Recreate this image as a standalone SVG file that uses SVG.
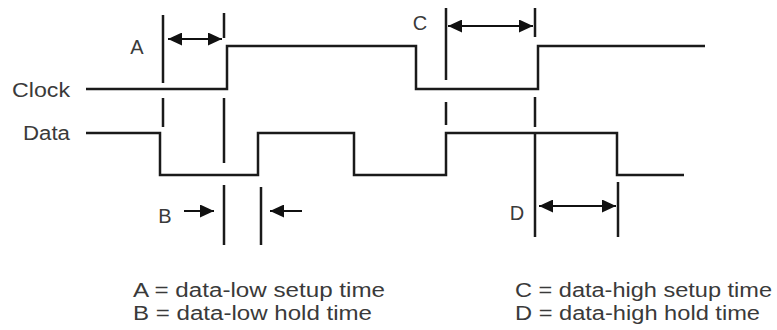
<svg xmlns="http://www.w3.org/2000/svg" width="777" height="330" viewBox="0 0 777 330">
<style>
.sig{fill:none;stroke:#1a1a1a;stroke-width:2.5;stroke-linejoin:miter}
.mk{stroke:#1a1a1a;stroke-width:2.5;fill:none}
.arr{stroke:#111;stroke-width:2;fill:none}
.lbl{font-family:"Liberation Sans",Arial,sans-serif;font-size:20px;fill:#3a3a3a}
.leg{font-family:"Liberation Sans",Arial,sans-serif;font-size:19.5px;fill:#3a3a3a}
</style>
<defs>
<marker id="ah" viewBox="0 0 14 13" refX="14" refY="6.5" markerWidth="14" markerHeight="13" markerUnits="userSpaceOnUse" orient="auto-start-reverse">
<path d="M0,0 L14,6.5 L0,13 Z" fill="#111"/>
</marker>
</defs>
<rect width="777" height="330" fill="#fff"/>
<g id="clock">
<text class="lbl" x="12" y="97" textLength="58" lengthAdjust="spacingAndGlyphs">Clock</text>
<path class="sig" d="M86,89 H227 V46 H416 V89 H538 V46 H705"/>
</g>
<g id="data">
<text class="lbl" x="23" y="140" textLength="47" lengthAdjust="spacingAndGlyphs">Data</text>
<path class="sig" d="M86,133 H160 V175 H258 V133 H354 V175 H446 V133 H617 V175 H684"/>
</g>
<g id="markers">
<path class="mk" d="M163,15 V83 M163,98 V127"/>
<path class="mk" d="M224,13 V38 M224,98 V163 M224,185 V245"/>
<path class="mk" d="M261,187 V245"/>
<path class="mk" d="M446,8 V80 M446,102 V125"/>
<path class="mk" d="M535,8 V37 M535,97 V127 M535,133 V237"/>
<path class="mk" d="M618,182 V237"/>
</g>
<g id="connectors">
<line class="arr" x1="168" y1="39" x2="222" y2="39" marker-start="url(#ah)" marker-end="url(#ah)"/>
<line class="arr" x1="184" y1="211" x2="214" y2="211" marker-end="url(#ah)"/>
<line class="arr" x1="302" y1="211" x2="270" y2="211" marker-end="url(#ah)"/>
<line class="arr" x1="448" y1="26" x2="533" y2="26" marker-start="url(#ah)" marker-end="url(#ah)"/>
<line class="arr" x1="539" y1="206" x2="616" y2="206" marker-start="url(#ah)" marker-end="url(#ah)"/>
</g>
<g id="labels">
<text class="lbl" x="137" y="54" text-anchor="middle">A</text>
<text class="lbl" x="165" y="223" text-anchor="middle">B</text>
<text class="lbl" x="420" y="30" text-anchor="middle">C</text>
<text class="lbl" x="517" y="220" text-anchor="middle">D</text>
</g>
<g id="legend">
<text class="leg" x="133" y="297" textLength="252" lengthAdjust="spacingAndGlyphs">A = data-low setup time</text>
<text class="leg" x="133" y="320" textLength="239" lengthAdjust="spacingAndGlyphs">B = data-low hold time</text>
<text class="leg" x="515" y="297" textLength="257" lengthAdjust="spacingAndGlyphs">C = data-high setup time</text>
<text class="leg" x="515" y="320" textLength="245" lengthAdjust="spacingAndGlyphs">D = data-high hold time</text>
</g>
</svg>
